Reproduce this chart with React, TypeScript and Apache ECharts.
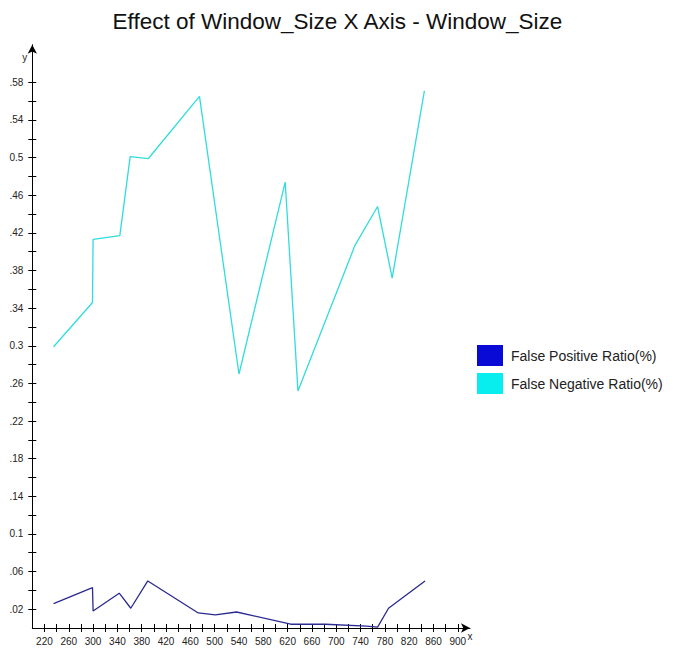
import React, { useEffect, useRef } from "react";
import * as echarts from "echarts";

// ---- data ----
const fprX = [235, 299, 300, 343, 362, 390, 473, 501, 536, 625, 682, 750, 768, 786, 846];
const fprY = [0.026, 0.043, 0.018, 0.037, 0.021, 0.05, 0.016, 0.014, 0.017, 0.004, 0.004, 0.002, 0.001, 0.021, 0.05];

const fnrX = [235, 299, 300, 344, 361, 391, 475, 540, 616, 637, 731, 768, 792, 845];
const fnrY = [0.299, 0.346, 0.413, 0.417, 0.501, 0.499, 0.565, 0.27, 0.474, 0.252, 0.407, 0.448, 0.372, 0.571];

const seriesNames = ["False Positive Ratio(%)", "False Negative Ratio(%)"];

// tick marks and tick labels
const xTickValues = [220, 240, 260, 280, 300, 320, 340, 360, 380, 400, 420, 440, 460, 480, 500, 520, 540, 560, 580, 600, 620, 640, 660, 680, 700, 720, 740, 760, 780, 800, 820, 840, 860, 880, 900];
const xLabelValues = [220, 260, 300, 340, 380, 420, 460, 500, 540, 580, 620, 660, 700, 740, 780, 820, 860, 900];
const xLabelTexts = ["220", "260", "300", "340", "380", "420", "460", "500", "540", "580", "620", "660", "700", "740", "780", "820", "860", "900"];

const yTickValues = [0.02, 0.04, 0.06, 0.08, 0.1, 0.12, 0.14, 0.16, 0.18, 0.2, 0.22, 0.24, 0.26, 0.28, 0.3, 0.32, 0.34, 0.36, 0.38, 0.4, 0.42, 0.44, 0.46, 0.48, 0.5, 0.52, 0.54, 0.56, 0.58];
const yLabelValues = [0.02, 0.06, 0.1, 0.14, 0.18, 0.22, 0.26, 0.3, 0.34, 0.38, 0.42, 0.46, 0.5, 0.54, 0.58];
const yLabelTexts = [".02", ".06", "0.1", ".14", ".18", ".22", ".26", "0.3", ".34", ".38", ".42", ".46", "0.5", ".54", ".58"];

const labelFor = (vals: number[], texts: string[]) => (v: number) => {
  for (let i = 0; i < vals.length; i++) {
    if (Math.abs(vals[i] - v) < 1e-6) return texts[i];
  }
  return "";
};

const X_MIN = 200;
const X_MAX = 920;
const Y_MIN = 0;
const Y_MAX = 0.62;

const tickFont = "'Liberation Sans Narrow', 'Arial Narrow', 'Liberation Sans', Arial, sans-serif";

export default function App() {
  const ref = useRef<HTMLDivElement>(null);

  useEffect(() => {
    if (!ref.current) return;
    const chart = echarts.init(ref.current, undefined, { renderer: "svg" });

    const baseX = {
      type: "value" as const,
      min: X_MIN,
      max: X_MAX,
      position: "bottom" as const,
      splitLine: { show: false },
    };
    const baseY = {
      type: "value" as const,
      min: Y_MIN,
      max: Y_MAX,
      position: "left" as const,
      splitLine: { show: false },
    };

    chart.setOption({
      animation: false,
      backgroundColor: "#ffffff",
      title: {
        text: "Effect of Window_Size X Axis - Window_Size",
        left: "center",
        top: 5,
        textStyle: {
          fontFamily: "'Liberation Sans', Arial, sans-serif",
          fontSize: 22.5,
          fontWeight: "normal",
          color: "#111111",
        },
      },
      legend: {
        orient: "vertical",
        left: 477,
        top: 345,
        padding: 0,
        itemWidth: 26,
        itemHeight: 21,
        itemGap: 7,
        icon: "rect",
        data: seriesNames,
        textStyle: {
          fontFamily: "'Liberation Sans', Arial, sans-serif",
          fontSize: 14,
          color: "#222222",
          padding: [0, 0, 0, 3],
        },
      },
      grid: {
        left: 32.3,
        right: 205,
        top: 44.7,
        bottom: 25,
        containLabel: false,
        outerBoundsMode: "none",
      },
      xAxis: [
        {
          ...baseX,
          name: "x",
          nameLocation: "end",
          nameGap: 0,
          nameMoveOverlap: false,
          nameTextStyle: {
            fontFamily: tickFont,
            fontSize: 10,
            color: "#222",
            align: "center",
            verticalAlign: "top",
            padding: [3, 0, 0, 0],
          },
          axisLine: {
            show: true,
            onZero: false,
            symbol: ["none", "arrow"],
            symbolSize: [7, 9],
            lineStyle: { color: "#000", width: 1 },
          },
          axisTick: {
            show: true,
            inside: false,
            length: 4,
            customValues: xTickValues,
            lineStyle: { color: "#000", width: 1 },
          },
          axisLabel: {
            show: true,
            customValues: xLabelValues,
            formatter: labelFor(xLabelValues, xLabelTexts),
            margin: 8,
            fontFamily: tickFont,
            fontSize: 10,
            color: "#222",
          },
        },
        {
          ...baseX,
          axisLine: { show: false, onZero: false },
          axisTick: {
            show: true,
            inside: true,
            length: 4,
            customValues: xTickValues,
            lineStyle: { color: "#000", width: 1 },
          },
          axisLabel: { show: false },
        },
      ],
      yAxis: [
        {
          ...baseY,
          name: "y",
          nameLocation: "end",
          nameGap: -18,
          nameMoveOverlap: false,
          nameTextStyle: {
            fontFamily: tickFont,
            fontSize: 10,
            color: "#222",
            align: "right",
            padding: [0, 5, 0, 0],
          },
          axisLine: {
            show: true,
            onZero: false,
            symbol: ["none", "arrow"],
            symbolSize: [7, 9],
            lineStyle: { color: "#000", width: 1 },
          },
          axisTick: {
            show: true,
            inside: false,
            length: 4,
            customValues: yTickValues,
            lineStyle: { color: "#000", width: 1 },
          },
          axisLabel: {
            show: true,
            customValues: yLabelValues,
            formatter: labelFor(yLabelValues, yLabelTexts),
            margin: 9,
            fontFamily: tickFont,
            fontSize: 10,
            color: "#222",
          },
        },
        {
          ...baseY,
          axisLine: { show: false, onZero: false },
          axisTick: {
            show: true,
            inside: true,
            length: 4,
            customValues: yTickValues,
            lineStyle: { color: "#000", width: 1 },
          },
          axisLabel: { show: false },
        },
      ],
      series: [
        {
          name: seriesNames[0],
          type: "line",
          xAxisIndex: 0,
          yAxisIndex: 0,
          showSymbol: false,
          symbol: "none",
          data: fprX.map((x, i) => [x, fprY[i]]),
          itemStyle: { color: "#0a0ad6" },
          lineStyle: { color: "#2a2a90", width: 1.3 },
        },
        {
          name: seriesNames[1],
          type: "line",
          xAxisIndex: 0,
          yAxisIndex: 0,
          showSymbol: false,
          symbol: "none",
          data: fnrX.map((x, i) => [x, fnrY[i]]),
          itemStyle: { color: "#08eeee" },
          lineStyle: { color: "#30dcdc", width: 1.3 },
        },
      ],
    });

    return () => chart.dispose();
  }, []);

  return (
    <div
      ref={ref}
      style={{ position: "fixed", left: 0, top: 0, width: 675, height: 653, background: "#fff" }}
    />
  );
}
